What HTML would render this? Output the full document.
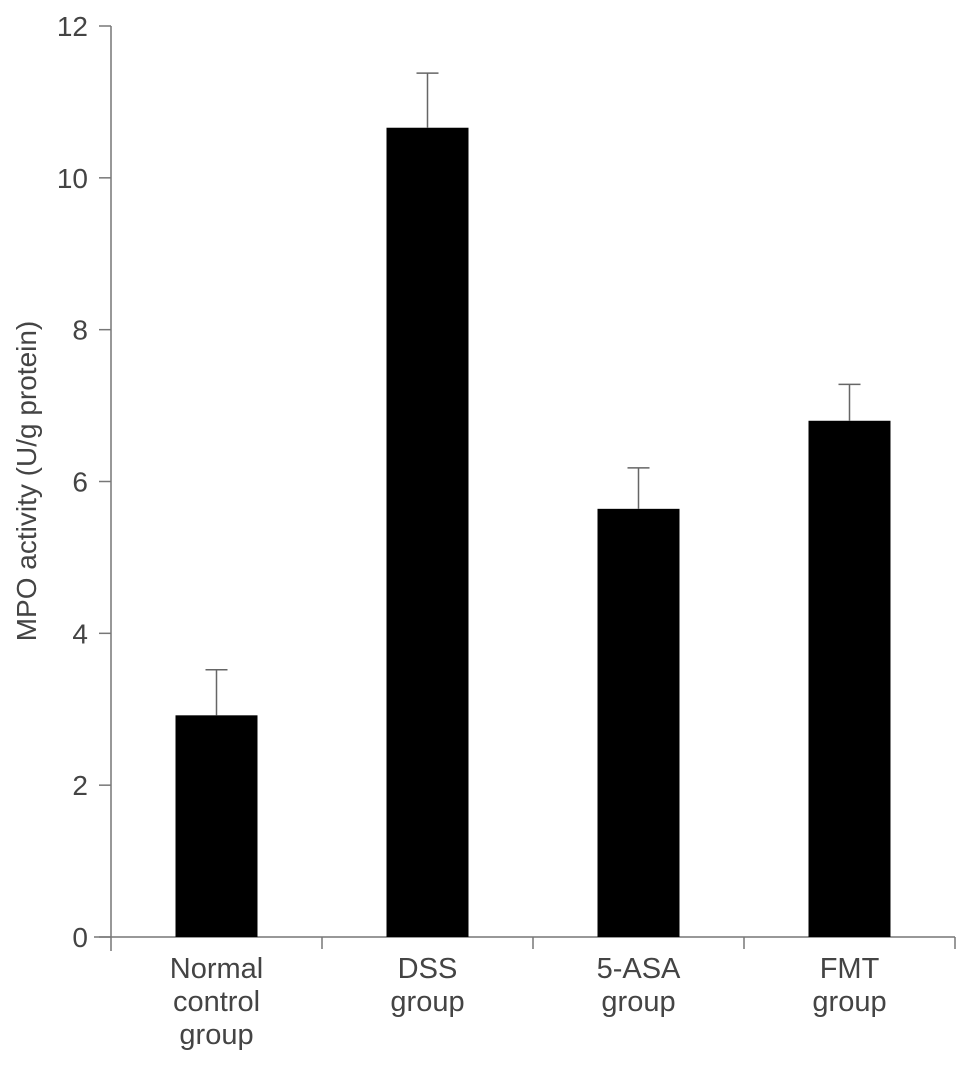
<!DOCTYPE html>
<html><head><meta charset="utf-8"><style>
html,body{margin:0;padding:0;background:#fff;}
svg{display:block;font-family:"Liberation Sans",sans-serif;}
</style></head><body>
<svg id="chart" width="969" height="1066" viewBox="0 0 969 1066"></svg>
<script>
const categories=[["Normal","control","group"],["DSS","group"],["5-ASA","group"],["FMT","group"]];
const values=[2.92,10.66,5.64,6.80];
const errors=[0.60,0.72,0.54,0.48];
const ticks=[0,2,4,6,8,10,12];
const NS="http://www.w3.org/2000/svg";
const svg=document.getElementById('chart');
const x0=111,x1=955,y0=937,yTop=26,yMax=12;
function yS(v){return y0-(v/yMax)*(y0-yTop);}
const bandStart=111,band=211,barW=82;
function xC(i){return bandStart+band*(i+0.5);}
function el(t,a,p){const e=document.createElementNS(NS,t);for(const k in a)e.setAttribute(k,a[k]);(p||svg).appendChild(e);return e;}
const axis=el('g',{});


const ya=el('line',{x1:x0,y1:yTop,x2:x0,y2:y0+14,stroke:'#777','stroke-width':1.5},axis);


const xa=el('line',{x1:94,y1:y0,x2:x1,y2:y0,stroke:'#777','stroke-width':1.5},axis);


for(let i=1;i<=categories.length;i++){
  const x=bandStart+band*i;
  const bt=el('line',{x1:x,y1:y0,x2:x,y2:y0+12,stroke:'#777','stroke-width':1.5},axis);
  
  
}
ticks.forEach(t=>{
  const y=yS(t);
  const tk=el('line',{x1:x0-12,y1:y,x2:x0,y2:y,stroke:'#777','stroke-width':1.5},axis);
  
  
  const tl=el('text',{x:88,y:y+10,'text-anchor':'end','font-size':28,fill:'#444'},axis);
  tl.textContent=t;
  
  
});
const yl=el('text',{x:0,y:0,transform:'translate(36,481) rotate(-90)','text-anchor':'middle','font-size':28,fill:'#444'});
yl.textContent='MPO activity (U/g protein)';


values.forEach((v,i)=>{
  const cx=xC(i);
  const b=el('rect',{x:cx-barW/2,y:yS(v),width:barW,height:y0-yS(v),fill:'#000'});
  
  
  const eb=el('path',{d:`M${cx},${yS(v)}V${yS(v+errors[i])}M${cx-11},${yS(v+errors[i])}H${cx+11}`,stroke:'#666','stroke-width':1.5,fill:'none'});
  
  
  const t=el('text',{x:cx,y:0,'text-anchor':'middle','font-size':29,fill:'#444'});
  
  
  categories[i].forEach((ln,j)=>{const s=el('tspan',{x:cx,y:978+33*j},t);s.textContent=ln;});
});
</script>
</body></html>
